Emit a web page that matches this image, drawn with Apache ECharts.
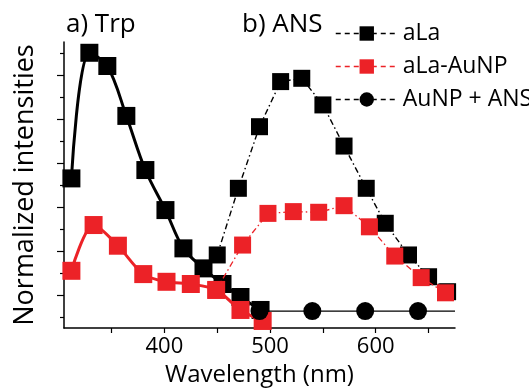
<!DOCTYPE html>
<html>
<head>
<meta charset="utf-8">
<script src="https://cdn.jsdelivr.net/npm/echarts@6/dist/echarts.min.js"></script>
<style>html,body{margin:0;padding:0;background:#fff;}#c{width:529px;height:390px;}</style>
</head>
<body>
<div id="c"></div>
<script>
// Trp emission (panel a)
const trpAlaX = [312, 329, 346, 364, 382, 401, 418, 437, 455, 472, 491];
const trpAlaY = [0.630, 1.201, 1.141, 0.914, 0.668, 0.486, 0.312, 0.221, 0.150, 0.091, 0.032];
const trpAuX = [312, 333, 356, 380, 402, 425, 449, 472, 493];
const trpAuY = [0.210, 0.418, 0.324, 0.195, 0.160, 0.150, 0.123, 0.032, -0.018];
// ANS emission (panel b)
const ansAlaX = [450, 470, 490, 510, 530, 550, 570, 591, 609, 631, 650, 668];
const ansAlaY = [0.282, 0.585, 0.865, 1.070, 1.085, 0.964, 0.777, 0.585, 0.426, 0.282, 0.183, 0.115];
const ansAuX = [449, 474, 498, 522, 546, 570, 594, 618, 643, 666];
const ansAuY = [0.123, 0.327, 0.471, 0.479, 0.476, 0.506, 0.410, 0.277, 0.179, 0.110];
const npX = [490, 540, 590, 640, 675];
const npY = [0.027, 0.027, 0.027, 0.027, 0.027];
const npMarked = [true, true, true, true, false];
// axis ticks
const xTicks = [350, 400, 450, 500, 550, 600, 650];
const xLabels = [400, 500, 600];
const yMajor = [0.1, 0.3, 0.5, 0.7, 0.9, 1.1];
const yMinor = [0, 0.2, 0.4, 0.6, 0.8, 1.0, 1.2];
const legendNames = ['aLa', 'aLa-AuNP', 'AuNP + ANS'];

const RED = '#ec2227';
const FONT = 'Open Sans';
const zip = (xs, ys) => xs.map((x, i) => [x, ys[i]]);

const chart = echarts.init(document.getElementById('c'), null, {renderer: 'canvas'});
chart.setOption({
  animation: false,
  backgroundColor: '#fff',
  title: [
    {text: 'a) Trp', left: 61, top: 7, textStyle: {fontFamily: FONT, fontSize: 26, fontWeight: 'normal', color: '#000'}},
    {text: 'b) ANS', left: 237, top: 7, textStyle: {fontFamily: FONT, fontSize: 26, fontWeight: 'normal', color: '#000'}}
  ],
  legend: {
    data: legendNames,
    orient: 'vertical',
    left: 330,
    top: 17,
    itemWidth: 62,
    itemHeight: 18,
    itemGap: 10,
    lineStyle: {type: [5, 4], width: 1.5},
    textStyle: {fontFamily: FONT, fontSize: 23, color: '#000'},
    selectedMode: false
  },
  grid: {left: 64, right: 74, top: 42, bottom: 62, containLabel: false, outerBoundsMode: 'none'},
  xAxis: {
    type: 'value',
    min: 305,
    max: 675,
    name: 'Wavelength (nm)',
    nameLocation: 'middle',
    nameGap: 31,
    nameTextStyle: {fontFamily: FONT, fontSize: 24, color: '#000'},
    axisLine: {show: true, onZero: false, lineStyle: {color: '#000', width: 1.5}},
    axisTick: {show: true, customValues: xTicks, length: 5, lineStyle: {color: '#000', width: 1.2}},
    axisLabel: {customValues: xLabels, fontFamily: FONT, fontSize: 22, color: '#000', margin: 8},
    splitLine: {show: false}
  },
  yAxis: [
    {
      type: 'value',
      min: -0.05,
      max: 1.25,
      name: 'Normalized intensities',
      nameLocation: 'middle',
      nameGap: 25,
      nameTextStyle: {fontFamily: FONT, fontSize: 27, color: '#000'},
      axisLine: {show: true, onZero: false, lineStyle: {color: '#000', width: 1.5}},
      axisTick: {show: true, customValues: yMajor, length: 7, lineStyle: {color: '#000', width: 1.2}},
      axisLabel: {show: false},
      splitLine: {show: false}
    },
    {
      type: 'value',
      min: -0.05,
      max: 1.25,
      position: 'left',
      axisLine: {show: false, onZero: false},
      axisTick: {show: true, customValues: yMinor, length: 4, lineStyle: {color: '#000', width: 1.2}},
      axisLabel: {show: false},
      splitLine: {show: false}
    }
  ],
  series: [
    {
      name: 'Trp aLa', type: 'line', data: zip(trpAlaX, trpAlaY), smooth: 0.35, clip: false,
      symbol: 'rect', symbolSize: 18, z: 2,
      lineStyle: {color: '#000', width: 3},
      itemStyle: {color: '#000'}
    },
    {
      name: 'aLa', type: 'line', data: zip(ansAlaX, ansAlaY), clip: false,
      symbol: 'rect', symbolSize: 17, z: 3,
      lineStyle: {color: '#000', width: 1.4, type: [6, 3, 1.5, 3]},
      itemStyle: {color: '#000'}
    },
    {
      name: 'Trp aLa-AuNP', type: 'line', data: zip(trpAuX, trpAuY), smooth: 0.3, clip: false,
      symbol: 'rect', symbolSize: 18, z: 4,
      lineStyle: {color: RED, width: 3},
      itemStyle: {color: RED}
    },
    {
      name: 'aLa-AuNP', type: 'line', data: zip(ansAuX, ansAuY), clip: false,
      symbol: 'rect', symbolSize: 17, z: 5,
      lineStyle: {color: RED, width: 1.3, type: [6, 3, 1.5, 3]},
      itemStyle: {color: RED}
    },
    {
      name: 'AuNP + ANS', type: 'line', clip: false, z: 6,
      data: npX.map((x, i) => ({value: [x, npY[i]], symbol: npMarked[i] ? 'circle' : 'none'})),
      symbol: 'circle', symbolSize: 18,
      lineStyle: {color: '#000', width: 1.3},
      itemStyle: {color: '#000'}
    }
  ]
});
</script>
</body>
</html>
